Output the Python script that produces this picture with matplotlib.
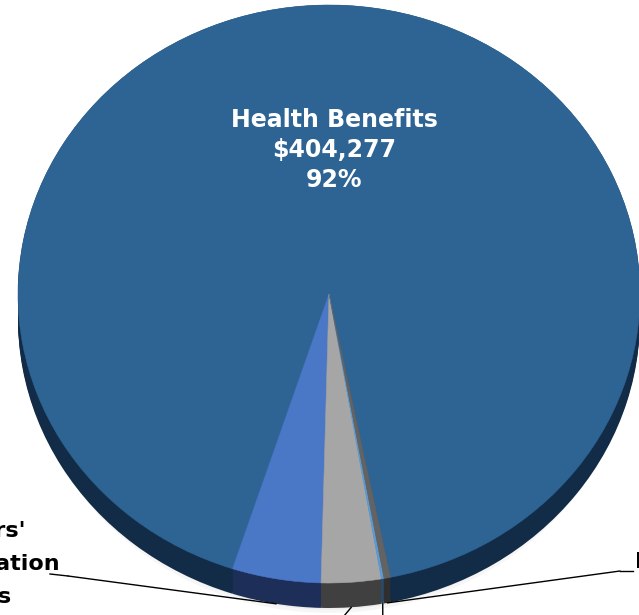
import numpy as np
import matplotlib
matplotlib.use('Agg')
import matplotlib.pyplot as plt
import matplotlib.transforms as mtransforms
from matplotlib.patches import Ellipse

# data (only the health value is printed)
categories = ['Health Benefits', "Workers'\nCompensation\nClaims", 'Pension Costs',
              'Other', 'Life Insurance']
values = [404277, 20316, 13650, 610, 1470]
top_colors = ['#2d6494', '#4a77c6', '#a6a6a6', '#5b9bd5', '#636363']
side_colors = ['#122c47', '#1d2e58', '#404040', '#2a4a6a', '#2f2f2f']

W, H = 639, 615
fig = plt.figure(figsize=(W / 100, H / 100), dpi=100)
ax = fig.add_axes([0, 0, 1, 1])

# image pixel coords (y down) -> display
img = mtransforms.Affine2D().scale(1, -1).translate(0, H)

cx, cy = 329, 294      # pie centre in pixels
rx, ry = 311, 289      # pie radii in pixels
depth = 25 / ry
start = 281.4

total = sum(values)
fracs = np.array(values) / total

# soft shadow under the pie
for i in range(8):
    r = 0.90 + i * 0.011
    ax.add_patch(Ellipse((0.0, -depth - 0.04), 2 * r, 2 * r,
                         facecolor='black', alpha=0.035, linewidth=0, zorder=0))

# side wall
for k in np.linspace(depth, 0, 14):
    wedges, _ = ax.pie(values, colors=side_colors, startangle=start, center=(0, -k),
                       radius=1, wedgeprops=dict(linewidth=0))
    for w in wedges:
        w.set_zorder(1)

# top face
wedges, _ = ax.pie(values, colors=top_colors, startangle=start, center=(0, 0),
                   radius=1, wedgeprops=dict(linewidth=0.4))
for w in wedges:
    w.set_edgecolor(w.get_facecolor())
    w.set_zorder(2)

ax.set_aspect('auto')
ax.set_xlim(-cx / rx, (W - cx) / rx)
ax.set_ylim(-(H - cy) / ry, cy / ry)
ax.axis('off')

# health label inside the big slice
pct = [f'{round(f * 100):.0f}%' for f in fracs]
ax.text(334, 108, f'{categories[0]}\n${values[0]:,}\n{pct[0]}', transform=img,
        ha='center', va='top', color='white', fontsize=17, fontweight='bold',
        linespacing=1.31, zorder=5)

# outside labels with leader lines to the bottom of the side wall
angles = start + 360 * (np.cumsum(fracs) - fracs / 2)
label_pos = {1: ((68, 576), (60, 521), 'right'),
             2: ((290, 680), (290, 690), 'right'),
             3: ((383, 690), (383, 700), 'left'),
             4: ((620, 571), (635, 552), 'left')}
for i, (tp, lp, ha) in label_pos.items():
    a = np.deg2rad(angles[i])
    xy = (np.cos(a), np.sin(a) - depth)
    ax.annotate('', xy=xy, xycoords='data', xytext=tp, textcoords=img,
                arrowprops=dict(arrowstyle='-', color='black', lw=1.0,
                                shrinkA=0, shrinkB=0), zorder=4, annotation_clip=False)
    ax.text(lp[0], lp[1], f'{categories[i]}\n${values[i]:,}\n{pct[i]}', transform=img,
            ha=ha, va='top', multialignment='center', color='black', fontsize=16,
            fontweight='bold', linespacing=1.82, zorder=5, clip_on=False)
# short horizontal stubs next to the labels
ax.plot([50, 68], [574, 576], color='black', lw=1.0, transform=img, zorder=4)
ax.plot([620, 633], [571, 571], color='black', lw=1.0, transform=img, zorder=4)

fig.savefig('out.png', dpi=100)
